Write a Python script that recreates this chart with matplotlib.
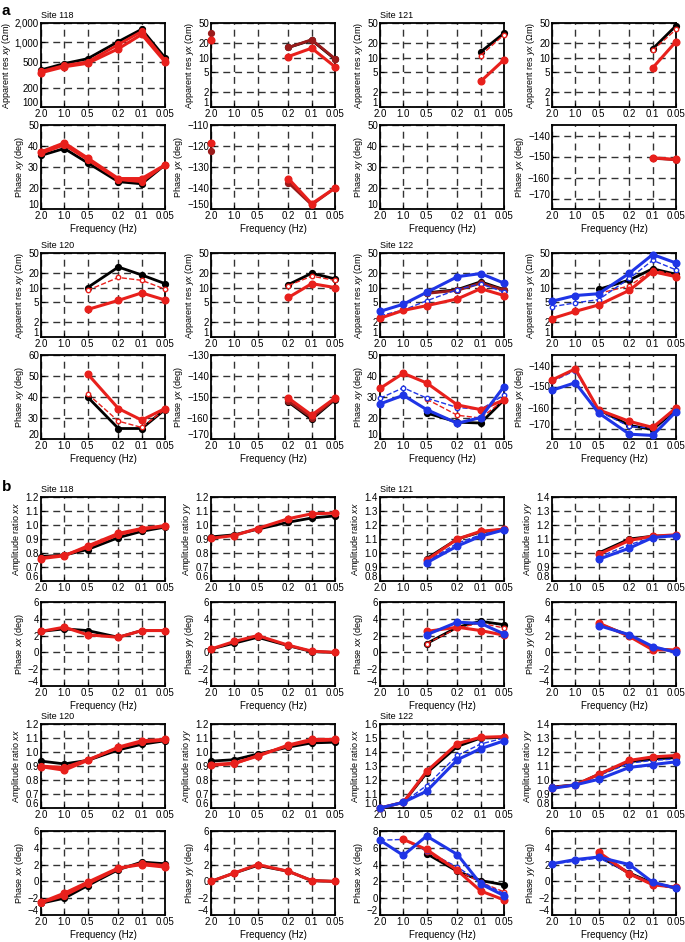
import numpy as np
import matplotlib.pyplot as plt
from matplotlib.transforms import ScaledTranslation

plt.rcParams['font.family'] = ['Liberation Sans', 'DejaVu Sans']
plt.rcParams['mathtext.fontset'] = 'custom'
plt.rcParams['mathtext.it'] = 'Liberation Sans:italic'
plt.rcParams['mathtext.rm'] = 'Liberation Sans'

nan = np.nan

# частоти (Гц)
freq = [2.0, 1.0, 0.5, 0.2, 0.1, 0.05]
freq_labels = ['2.0', '1.0', '0.5', '0.2', '0.1', '0.05']

# a: уявний опір та фаза
# k - чорна, m - темно-червона, r/r2 - червона, rd - червона пунктир, b - синя, bd - синя пунктир
rho_xy_118 = {'k': [375, 470, 560, 1030, 1600, 580],
              'r2': [355, 440, 500, 930, 1480, 530],
              'r': [340, 420, 475, 800, 1330, 500]}
rho_yx_118 = {'m': [31, nan, nan, 16, 23, 9.5],
              'k': [nan, nan, nan, 16, 22.5, 9.3],
              'r': [23, nan, nan, 10.5, 15.5, 6.5]}
phi_xy_118 = {'k': [35.5, 38.8, 32, 23, 22, 31],
              'r2': [36.5, 40.5, 33.5, 24, 23, 31],
              'r': [37.2, 41.5, 34.3, 24.5, 24.5, 31]}
phi_yx_118 = {'m': [-122.5, nan, nan, -137.5, -148, -140],
              'r': [-118.5, nan, nan, -135.5, -147.5, -140]}

rho_xy_121 = {'k': [nan, nan, nan, nan, 13, 31],
              'rd': [nan, nan, nan, nan, 11, 29],
              'r': [nan, nan, nan, nan, 3.3, 9]}
rho_yx_121 = {'k': [nan, nan, nan, nan, 15, 44],
              'rd': [nan, nan, nan, nan, 14, 37],
              'r': [nan, nan, nan, nan, 6.2, 21]}
phi_xy_121 = {}
phi_yx_121 = {'m': [nan, nan, nan, nan, -150.8, -151.6],
              'r': [nan, nan, nan, nan, -150.6, -151.4]}

rho_xy_120 = {'k': [nan, nan, 10, 26, 18, 12],
              'rd': [nan, nan, 8.8, 16, 14, 9.3],
              'r': [nan, nan, 3.6, 5.5, 7.8, 5.6]}
rho_yx_120 = {'k': [nan, nan, nan, 11.5, 19.5, 15],
              'rd': [nan, nan, nan, 11, 17, 14],
              'r': [nan, nan, nan, 6.3, 12, 10]}
phi_xy_120 = {'k': [nan, nan, 40, 25, 25, 34],
              'rd': [nan, nan, 41.5, 28.5, 25.5, 34],
              'r': [nan, nan, 51, 34.5, 29, 34.5]}
phi_yx_120 = {'k': [nan, nan, nan, -152.4, -160.6, -151.2],
              'm': [nan, nan, nan, -152.0, -159.8, -151.0],
              'r': [nan, nan, nan, -150.5, -158.6, -150.5]}

rho_xy_122 = {'k': [nan, nan, 7.8, 9.1, 13.1, 9.1],
              'm': [nan, nan, 7.6, 8.8, 12.3, 8.9],
              'bd': [2.7, 3.5, 5.4, 9.1, 11.9, 8.1],
              'r': [2.4, 3.45, 4.3, 5.9, 9.5, 6.9],
              'b': [3.3, 4.6, 8.0, 16.6, 19.2, 12.3]}
rho_yx_122 = {'k': [nan, nan, 9.2, 14.2, 24, 18.6],
              'rd': [nan, nan, 7.6, 10.8, 22.8, 18],
              'bd': [4.1, 4.9, 5.7, 15.3, 35.6, 22.8],
              'r': [2.36, 3.3, 4.45, 8.8, 21, 16.6],
              'b': [5.3, 6.9, 7.5, 19.5, 46.6, 31.4]}
phi_xy_122 = {'k': [nan, nan, 22.4, 18, 17.6, 28.6],
              'rd': [nan, nan, 29, 21.3, 20, 28.6],
              'bd': [29.4, 34.4, 29.5, 25, 24.1, 30.9],
              'r': [34.1, 41.3, 36.7, 26.2, 24, 28.6],
              'b': [26.7, 30.8, 24, 17.5, 20.2, 35]}
phi_yx_122 = {'k': [nan, nan, -161, -168.5, -170.5, -161],
              'bd': [-147.6, -142.4, -161.8, -169, -169.8, -161],
              'r': [-146.9, -141.6, -161.1, -166.6, -169.5, -160.2],
              'b': [-151.8, -148.2, -162.6, -172.7, -173.3, -162]}

# b: відношення амплітуд та фаза
amp_xx_118 = {'k': [0.775, 0.785, 0.825, 0.91, 0.955, 0.985],
              'r2': [0.765, 0.785, 0.84, 0.93, 0.97, 0.99],
              'r': [0.76, 0.78, 0.85, 0.94, 0.975, 0.995]}
amp_yy_118 = {'k': [0.915, 0.93, 0.97, 1.02, 1.05, 1.065],
              'r': [0.905, 0.925, 0.975, 1.045, 1.08, 1.085]}
ph_xx_118 = {'k': [2.5, 2.8, 2.6, 1.8, 2.6, 2.6],
             'r': [2.5, 3.0, 2.1, 1.8, 2.6, 2.6]}
ph_yy_118 = {'k': [0.4, 1.1, 1.8, 0.8, 0.1, 0.0],
             'r': [0.4, 1.3, 2.0, 0.85, 0.15, 0.0]}

amp_xx_121 = {'k': [nan, nan, 0.96, 1.1, 1.15, 1.17],
              'bd': [nan, nan, 0.94, 1.07, 1.13, 1.165],
              'r': [nan, nan, 0.95, 1.1, 1.155, 1.17],
              'b': [nan, nan, 0.93, 1.05, 1.12, 1.165]}
amp_yy_121 = {'k': [nan, nan, 1.0, 1.1, 1.12, 1.125],
              'bd': [nan, nan, 0.97, 1.06, 1.11, 1.12],
              'r': [nan, nan, 0.99, 1.09, 1.12, 1.13],
              'b': [nan, nan, 0.955, 1.035, 1.11, 1.125]}
ph_xx_121 = {'k': [nan, nan, 1.05, 3.0, 3.7, 3.3],
             'rd': [nan, nan, 1.05, 2.9, 3.5, 2.9],
             'r': [nan, nan, 2.5, 3.0, 2.6, 2.05],
             'b': [nan, nan, 2.1, 3.6, 3.45, 2.2]}
ph_yy_121 = {'k': [nan, nan, 3.4, 2.0, 0.5, 0.2],
             'r': [nan, nan, 3.5, 1.9, 0.3, 0.3],
             'b': [nan, nan, 3.2, 2.1, 0.7, 0.0]}

amp_xx_120 = {'k': [0.935, 0.915, 0.94, 1.015, 1.055, 1.08],
              'r2': [0.9, 0.89, 0.945, 1.03, 1.07, 1.085],
              'r': [0.895, 0.87, 0.94, 1.035, 1.08, 1.09]}
amp_yy_120 = {'k': [0.935, 0.945, 0.985, 1.035, 1.065, 1.07],
              'r2': [0.905, 0.915, 0.975, 1.045, 1.08, 1.085],
              'r': [0.91, 0.92, 0.97, 1.05, 1.09, 1.09]}
ph_xx_120 = {'k': [-2.6, -2.0, -0.5, 1.4, 2.3, 2.1],
             'r2': [-2.55, -1.7, -0.3, 1.5, 2.15, 1.9],
             'r': [-2.5, -1.4, -0.1, 1.6, 2.0, 1.7]}
ph_yy_120 = {'k': [0.0, 1.0, 1.9, 1.2, 0.1, 0.0],
             'r': [0.0, 1.0, 2.0, 1.2, 0.1, 0.0]}

amp_xx_122 = {'k': [1.0, 1.04, 1.25, 1.44, 1.5, 1.505],
              'bd': [1.0, 1.04, 1.16, 1.376, 1.457, 1.5],
              'r': [1.0, 1.04, 1.262, 1.46, 1.505, 1.51],
              'b': [1.0, 1.04, 1.12, 1.345, 1.424, 1.48]}
amp_yy_122 = {'k': [0.95, 0.965, 1.04, 1.13, 1.15, 1.16],
              'bd': [0.955, 0.965, 1.03, 1.12, 1.14, 1.15],
              'r': [0.945, 0.965, 1.04, 1.14, 1.165, 1.175],
              'b': [0.94, 0.965, 1.005, 1.09, 1.11, 1.13]}
ph_xx_122 = {'k': [nan, nan, 5.3, 3.2, 2.1, 1.6],
             'rd': [nan, nan, 5.5, 3.3, 1.9, 0.75],
             'bd': [6.9, 7.0, 5.6, 3.7, 1.9, 0.55],
             'r': [nan, 7.0, 5.8, 3.3, 0.86, -0.2],
             'b': [6.9, 5.1, 7.4, 5.2, 1.7, 0.3]}
ph_yy_122 = {'k': [nan, nan, 3.0, 1.0, -0.2, -0.8],
             'm': [nan, nan, 3.3, 0.9, -0.3, -0.7],
             'bd': [2.1, 2.4, 2.8, 1.0, -0.3, -0.7],
             'r': [nan, nan, 3.5, 0.9, -0.4, -0.7],
             'b': [2.1, 2.6, 2.9, 2.0, -0.1, -0.8]}

styles = {
    'k': dict(color='black', lw=2.0, ms=4.2),
    'm': dict(color='#9a1b1b', lw=2.0, ms=4.2),
    'rd': dict(color='#e8201c', lw=1.0, ls='--', ms=3.2, mfc='white', mew=1.0),
    'bd': dict(color='#1f35e6', lw=1.0, ls='--', ms=3.2, mfc='white', mew=1.0),
    'r2': dict(color='#e8201c', lw=2.0, ms=4.2),
    'r': dict(color='#e8201c', lw=2.2, ms=4.8),
    'b': dict(color='#1f35e6', lw=2.2, ms=4.8),
}
order = ['k', 'm', 'rd', 'bd', 'r2', 'r', 'b']

fig = plt.figure(figsize=(6.85, 9.42), dpi=100)
W, H = 685.0, 942.0
col_left = [41, 211, 380, 552]
row_top = [23, 125, 253, 355, 497, 602, 724, 831]
aw, ah = 124, 84
fs = 6.5
tfs = 7

rho_lbl = ['Apparent res $\\mathit{xy}$ (Ωm)', 'Apparent res $\\mathit{yx}$ (Ωm)']
phi_lbl = ['Phase $\\mathit{xy}$ (deg)', 'Phase $\\mathit{yx}$ (deg)']
amp_lbl = ['Amplitude ratio $\\mathit{xx}$', 'Amplitude ratio $\\mathit{yy}$']
ph2_lbl = ['Phase $\\mathit{xx}$ (deg)', 'Phase $\\mathit{yy}$ (deg)']

log_ticks = [1, 2, 5, 10, 20, 50]
big_ticks = [100, 200, 500, 1000, 2000]

# (рядок, колонка, дані, підпис, log, ylim, yticks, формат, сайт)
panels = [
    (0, 0, rho_xy_118, rho_lbl[0], True, (100, 2000), big_ticks, '{:,.0f}', 'Site 118'),
    (0, 1, rho_yx_118, rho_lbl[1], True, (1, 50), log_ticks, '{:.0f}', None),
    (1, 0, phi_xy_118, phi_lbl[0], False, (10, 50), [10, 20, 30, 40, 50], '{:.0f}', None),
    (1, 1, phi_yx_118, phi_lbl[1], False, (-150, -110), [-150, -140, -130, -120, -110], '{:.0f}', None),
    (0, 2, rho_xy_121, rho_lbl[0], True, (1, 50), log_ticks, '{:.0f}', 'Site 121'),
    (0, 3, rho_yx_121, rho_lbl[1], True, (1, 50), log_ticks, '{:.0f}', None),
    (1, 2, phi_xy_121, phi_lbl[0], False, (10, 50), [10, 20, 30, 40, 50], '{:.0f}', None),
    (1, 3, phi_yx_121, phi_lbl[1], False, (-175, -135), [-170, -160, -150, -140], '{:.0f}', None),
    (2, 0, rho_xy_120, rho_lbl[0], True, (1, 50), log_ticks, '{:.0f}', 'Site 120'),
    (2, 1, rho_yx_120, rho_lbl[1], True, (1, 50), log_ticks, '{:.0f}', None),
    (3, 0, phi_xy_120, phi_lbl[0], False, (20, 60), [20, 30, 40, 50, 60], '{:.0f}', None),
    (3, 1, phi_yx_120, phi_lbl[1], False, (-170, -130), [-170, -160, -150, -140, -130], '{:.0f}', None),
    (2, 2, rho_xy_122, rho_lbl[0], True, (1, 50), log_ticks, '{:.0f}', 'Site 122'),
    (2, 3, rho_yx_122, rho_lbl[1], True, (1, 50), log_ticks, '{:.0f}', None),
    (3, 2, phi_xy_122, phi_lbl[0], False, (10, 50), [10, 20, 30, 40, 50], '{:.0f}', None),
    (3, 3, phi_yx_122, phi_lbl[1], False, (-175, -135), [-170, -160, -150, -140], '{:.0f}', None),
    (4, 0, amp_xx_118, amp_lbl[0], False, (0.6, 1.2), np.arange(0.6, 1.21, 0.1), '{:.1f}', 'Site 118'),
    (4, 1, amp_yy_118, amp_lbl[1], False, (0.6, 1.2), np.arange(0.6, 1.21, 0.1), '{:.1f}', None),
    (5, 0, ph_xx_118, ph2_lbl[0], False, (-4, 6), [-4, -2, 0, 2, 4, 6], '{:.0f}', None),
    (5, 1, ph_yy_118, ph2_lbl[1], False, (-4, 6), [-4, -2, 0, 2, 4, 6], '{:.0f}', None),
    (4, 2, amp_xx_121, amp_lbl[0], False, (0.8, 1.4), np.arange(0.8, 1.41, 0.1), '{:.1f}', 'Site 121'),
    (4, 3, amp_yy_121, amp_lbl[1], False, (0.8, 1.4), np.arange(0.8, 1.41, 0.1), '{:.1f}', None),
    (5, 2, ph_xx_121, ph2_lbl[0], False, (-4, 6), [-4, -2, 0, 2, 4, 6], '{:.0f}', None),
    (5, 3, ph_yy_121, ph2_lbl[1], False, (-4, 6), [-4, -2, 0, 2, 4, 6], '{:.0f}', None),
    (6, 0, amp_xx_120, amp_lbl[0], False, (0.6, 1.2), np.arange(0.6, 1.21, 0.1), '{:.1f}', 'Site 120'),
    (6, 1, amp_yy_120, amp_lbl[1], False, (0.6, 1.2), np.arange(0.6, 1.21, 0.1), '{:.1f}', None),
    (7, 0, ph_xx_120, ph2_lbl[0], False, (-4, 6), [-4, -2, 0, 2, 4, 6], '{:.0f}', None),
    (7, 1, ph_yy_120, ph2_lbl[1], False, (-4, 6), [-4, -2, 0, 2, 4, 6], '{:.0f}', None),
    (6, 2, amp_xx_122, amp_lbl[0], False, (1.0, 1.6), np.arange(1.0, 1.61, 0.1), '{:.1f}', 'Site 122'),
    (6, 3, amp_yy_122, amp_lbl[1], False, (0.8, 1.4), np.arange(0.8, 1.41, 0.1), '{:.1f}', None),
    (7, 2, ph_xx_122, ph2_lbl[0], False, (-2, 8), [-2, 0, 2, 4, 6, 8], '{:.0f}', None),
    (7, 3, ph_yy_122, ph2_lbl[1], False, (-4, 6), [-4, -2, 0, 2, 4, 6], '{:.0f}', None),
]

lift = ScaledTranslation(0, 3.5 / 72, fig.dpi_scale_trans)

for row, col, data, ylabel, logy, ylim, yticks, fmt, site in panels:
    left = col_left[col] / W
    bottom = 1 - (row_top[row] + ah) / H
    ax = fig.add_axes([left, bottom, aw / W, ah / H])
    ax.set_xscale('log')
    if logy:
        ax.set_yscale('log')
    ax.set_xlim(2.0, 0.05)
    ax.set_ylim(*ylim)
    ax.set_xticks(freq)
    ax.set_xticklabels(freq_labels)
    ax.xaxis.set_minor_locator(plt.NullLocator())
    ax.set_yticks(yticks)
    ax.set_yticklabels([fmt.format(v).replace('-', '\u2212') for v in yticks])
    ax.yaxis.set_minor_locator(plt.NullLocator())
    ax.grid(True, color='#333333', lw=1.0, ls=(0, (5, 3.5)))
    ax.set_axisbelow(True)
    ax.tick_params(labelsize=tfs, direction='in', length=3, pad=1.5)
    for sp in ax.spines.values():
        sp.set_linewidth(1.3)
    # нижня мітка осі y трохи піднята, щоб не налізала на 2.0
    lab0 = ax.get_yticklabels()[0]
    lab0.set_transform(lab0.get_transform() + lift)
    ax.set_ylabel(ylabel, fontsize=fs, labelpad=1.5)
    if row % 2 == 1:
        ax.set_xlabel('Frequency (Hz)', fontsize=tfs, labelpad=2)
    if site:
        ax.text(0.0, 1.03, site, transform=ax.transAxes, fontsize=fs,
                ha='left', va='bottom')
    for key in order:
        if key in data:
            ax.plot(freq, data[key], marker='o', clip_on=False, zorder=3,
                    solid_capstyle='round', **styles[key])

fig.text(2 / W, 1 - 11 / H, 'a', fontsize=11, fontweight='bold', va='center')
fig.text(2 / W, 1 - 487 / H, 'b', fontsize=11, fontweight='bold', va='center')

fig.savefig('out.png', dpi=100)
